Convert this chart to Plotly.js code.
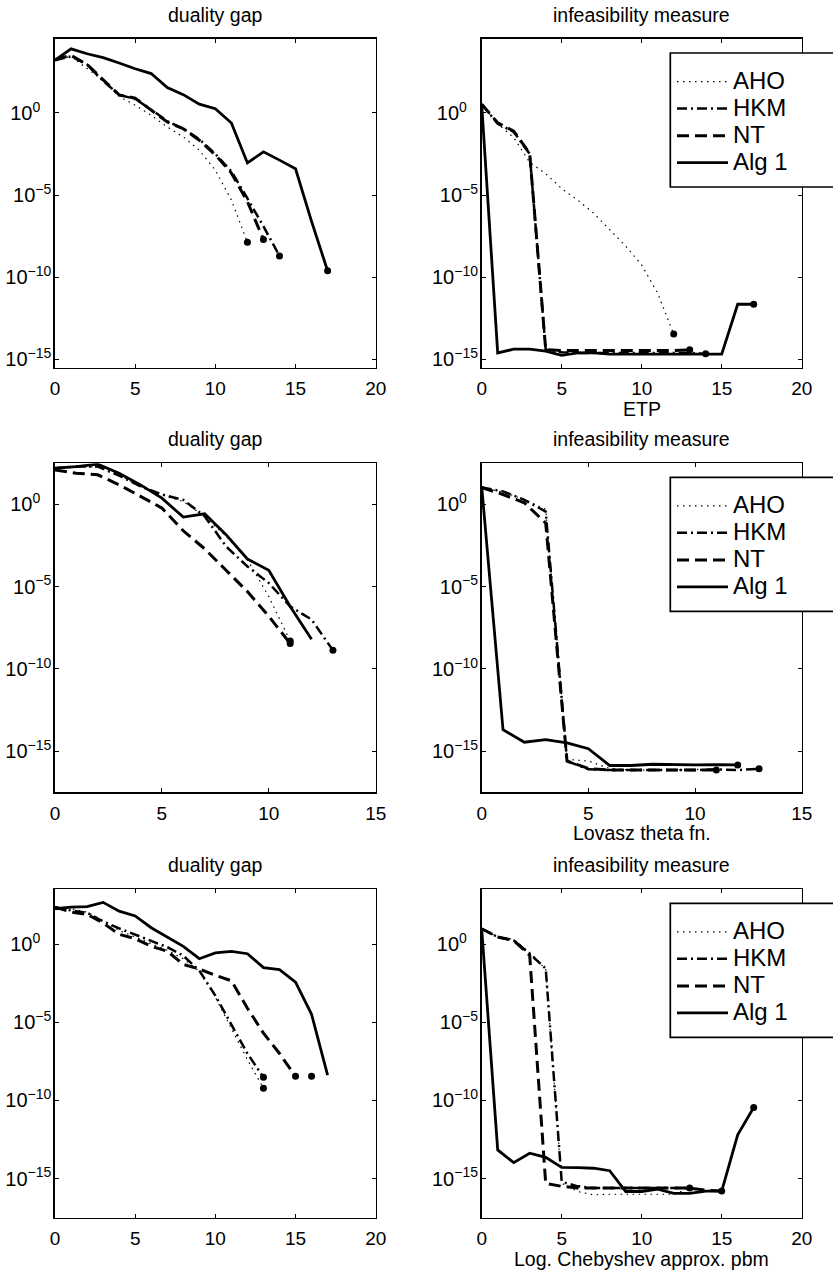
<!DOCTYPE html>
<html>
<head>
<meta charset="utf-8">
<script src="https://cdn.plot.ly/plotly-3.0.1.min.js"></script>
<style>html,body{margin:0;padding:0;background:#ffffff;}</style>
</head>
<body>
<div id="chart" style="width:833px;height:1273px;"></div>
<script>
// ---------------- data ----------------
const seriesNames = ["AHO", "HKM", "NT", "Alg 1"];
const leftTitle = "duality gap";
const rightTitle = "infeasibility measure";
const problemNames = ["ETP", "Lovasz theta fn.", "Log. Chebyshev approx. pbm"];
const yTickExponents = [-15, -10, -5, 0];
const xTicksTo20 = [0, 5, 10, 15, 20];
const xTicksTo15 = [0, 5, 10, 15];

// ETP : duality gap (iteration = array index)
const etpGapAHO = [1.6e3, 2.8e3, 5.0e2, 95, 10, 2.95, 0.72, 0.14, 3.5e-2, 5.4e-3, 3.3e-4, 5.0e-6, 1.35e-8];
const etpGapHKM = [1.6e3, 2.8e3, 8.9e2, 89, 12.6, 7.1, 1.6, 0.32, 0.11, 2.5e-2, 3.2e-3, 2.8e-4, 6.3e-6, 1.26e-7, 2.0e-9];
const etpGapNT  = [1.8e3, 3.2e3, 8.9e2, 1.0e2, 12.6, 7.9, 1.4, 0.28, 0.11, 2.2e-2, 2.8e-3, 2.2e-4, 4.0e-6, 2.0e-8];
const etpGapAlg = [1.6e3, 7.9e3, 4.0e3, 2.3e3, 1.1e3, 4.9e2, 2.5e2, 35, 13, 3.4, 1.8, 0.245, 9.1e-4, 4.3e-3, 1.35e-3, 4.0e-4, 2.5e-7, 2.5e-10];
const etpGapEndX = [12, 13, 14, 17];
const etpGapEndY = [1.35e-8, 2.0e-8, 2.0e-9, 2.5e-10];

// ETP : infeasibility measure
const etpInfAHO = [3.4, 0.22, 3.2e-2, 1.0e-3, 2.0e-4, 2.5e-5, 5.0e-6, 7.9e-7, 7.9e-8, 7.9e-9, 5.6e-10, 1.07e-11, 3.5e-14];
const etpInfHKM = [3.4, 0.22, 7.1e-2, 3.2e-3, 4.0e-15, 2.8e-15, 2.5e-15, 2.5e-15, 2.5e-15, 2.5e-15, 2.5e-15, 2.5e-15, 2.5e-15, 2.5e-15, 2.2e-15];
const etpInfNT  = [3.4, 0.25, 7.9e-2, 3.5e-3, 4.0e-15, 3.5e-15, 3.5e-15, 3.5e-15, 3.5e-15, 3.5e-15, 3.5e-15, 3.5e-15, 3.5e-15, 3.9e-15];
const etpInfAlg = [3.4, 2.5e-15, 4.3e-15, 4.3e-15, 3.2e-15, 1.8e-15, 2.5e-15, 2.5e-15, 2.1e-15, 2.1e-15, 2.1e-15, 2.1e-15, 2.1e-15, 2.1e-15, 2.1e-15, 2.1e-15, 2.3e-12, 2.3e-12];
const etpInfEndX = [12, 13, 14, 17];
const etpInfEndY = [3.5e-14, 3.9e-15, 2.2e-15, 2.3e-12];

// Lovasz theta fn. : duality gap
const lovGapAHO = [1.6e2, 1.8e2, 2.0e2, 63, 12.3, 3.9, 1.5, 0.19, 1.15e-2, 4.4e-4, 2.5e-6, 5.0e-9];
const lovGapHKM = [1.6e2, 2.0e2, 2.0e2, 56, 12.6, 4.0, 1.9, 0.19, 2.8e-3, 1.7e-4, 1.66e-5, 6.3e-7, 1.0e-7, 1.35e-9];
const lovGapNT  = [1.26e2, 79, 63, 15.5, 3.1, 0.6, 2.5e-2, 2.0e-3, 1.0e-4, 5.0e-6, 1.6e-7, 3.5e-9];
const lovGapAlg = [1.6e2, 2.0e2, 2.8e2, 79, 15.5, 2.4, 0.17, 0.27, 1.45e-2, 4.8e-4, 1.0e-4, 6.3e-7, 6.3e-9];
const lovGapEndX = [11, 11, 13];
const lovGapEndY = [5.0e-9, 3.5e-9, 1.35e-9];

// Lovasz theta fn. : infeasibility measure
const lovInfAHO = [10.7, 5.6, 2.0, 0.5, 3.2e-16, 2.5e-16, 8.9e-17, 7.1e-17, 7.1e-17, 7.1e-17, 7.9e-17, 7.1e-17];
const lovInfHKM = [10.7, 6.2, 1.9, 0.37, 2.5e-16, 7.9e-17, 7.1e-17, 7.1e-17, 7.1e-17, 7.6e-17, 7.1e-17, 7.9e-17, 7.1e-17, 8.5e-17];
const lovInfNT  = [10.7, 4.0, 1.26, 7.4e-2, 2.5e-16, 8.9e-17, 7.1e-17, 7.1e-17, 7.1e-17, 7.1e-17, 7.1e-17, 7.1e-17];
const lovInfAlg = [12.3, 2.0e-14, 3.5e-15, 5.0e-15, 3.2e-15, 1.4e-15, 1.35e-16, 1.35e-16, 1.6e-16, 1.45e-16, 1.45e-16, 1.5e-16, 1.45e-16];
const lovInfEndX = [11, 12, 13];
const lovInfEndY = [7.1e-17, 1.45e-16, 8.5e-17];

// Log. Chebyshev approx. pbm : duality gap
const chbGapAHO = [2.3e2, 1.8e2, 1.1e2, 32, 7.4, 2.8, 1.05, 0.4, 0.115, 1.8e-2, 4.0e-4, 4.0e-6, 4.0e-8, 5.9e-10];
const chbGapHKM = [2.3e2, 1.4e2, 1.0e2, 28, 10, 4.0, 1.6, 0.63, 0.18, 2.0e-2, 5.0e-4, 6.3e-6, 1.0e-7, 3.0e-9];
const chbGapNT  = [2.3e2, 1.1e2, 79, 22, 4.2, 2.2, 0.71, 0.35, 5.0e-2, 2.5e-2, 1.0e-2, 4.5e-3, 7.9e-5, 2.0e-6, 1.0e-7, 3.5e-9];
const chbGapAlg = [1.8e2, 2.3e2, 2.5e2, 4.6e2, 1.26e2, 63, 11, 2.8, 0.71, 0.115, 0.27, 0.34, 0.24, 3.1e-2, 2.3e-2, 3.7e-3, 3.2e-5, 4.2e-9];
const chbGapEndX = [13, 13, 15, 16];
const chbGapEndY = [3.0e-9, 5.9e-10, 3.5e-9, 3.5e-9];

// Log. Chebyshev approx. pbm : infeasibility measure
const chbInfAHO = [9.5, 2.8, 2.0, 0.28, 2.5e-2, 5.0e-16, 1.5e-16, 9.1e-17, 1.0e-16, 1.0e-16, 1.0e-16, 1.0e-16, 1.0e-16, 2.5e-16];
const chbInfHKM = [9.5, 2.8, 1.7, 0.24, 2.7e-2, 6.3e-16, 3.2e-16, 2.5e-16, 2.5e-16, 2.5e-16, 2.5e-16, 2.5e-16, 2.5e-16, 2.5e-16];
const chbInfNT  = [9.5, 2.8, 1.7, 0.19, 5.0e-16, 3.2e-16, 2.5e-16, 2.5e-16, 2.5e-16, 2.5e-16, 2.5e-16, 2.5e-16, 2.5e-16, 2.5e-16, 1.8e-16, 1.6e-16];
const chbInfAlg = [9.5, 6.8e-14, 1.05e-14, 4.2e-14, 2.3e-14, 5.2e-15, 5.0e-15, 4.6e-15, 3.2e-15, 1.5e-16, 1.5e-16, 2.1e-16, 1.15e-16, 1.15e-16, 1.6e-16, 1.6e-16, 6.3e-13, 3.5e-11];
const chbInfEndX = [13, 15, 17];
const chbInfEndY = [2.5e-16, 1.6e-16, 3.5e-11];

// ---------------- layout / styling ----------------
const W = 833, H = 1273;
const FONT = "Liberation Sans, Arial, Helvetica, sans-serif";
const cols = [[55, 375.7], [481.7, 801.7]];
const rows = [[39, 367.7], [463.3, 792.3], [889.3, 1217.7]];
const yRanges = [[-15.5, 4.5], [-17.5, 2.5], [-17.5, 3.5]];
const xRanges = [[0, 20], [0, 15], [0, 20]];
const xTickSets = [xTicksTo20, xTicksTo15, xTicksTo20];

const lineStyles = {
  "AHO":   {dash: "1.5px,4.5px", width: 1.2},
  "HKM":   {dash: "10px,4px,2px,4px", width: 2.5},
  "NT":    {dash: "12px,6px", width: 3},
  "Alg 1": {dash: "solid", width: 2.8}
};

const panels = [
  {row: 0, col: 0, series: [etpGapAHO, etpGapHKM, etpGapNT, etpGapAlg], endX: etpGapEndX, endY: etpGapEndY},
  {row: 0, col: 1, series: [etpInfAHO, etpInfHKM, etpInfNT, etpInfAlg], endX: etpInfEndX, endY: etpInfEndY, legend: "legend"},
  {row: 1, col: 0, series: [lovGapAHO, lovGapHKM, lovGapNT, lovGapAlg], endX: lovGapEndX, endY: lovGapEndY},
  {row: 1, col: 1, series: [lovInfAHO, lovInfHKM, lovInfNT, lovInfAlg], endX: lovInfEndX, endY: lovInfEndY, legend: "legend2"},
  {row: 2, col: 0, series: [chbGapAHO, chbGapHKM, chbGapNT, chbGapAlg], endX: chbGapEndX, endY: chbGapEndY},
  {row: 2, col: 1, series: [chbInfAHO, chbInfHKM, chbInfNT, chbInfAlg], endX: chbInfEndX, endY: chbInfEndY, legend: "legend3"}
];

const yTickVals = yTickExponents.map(e => Math.pow(10, e));
const yTickText = yTickExponents.map(e => e === 0
  ? "10<sup>0</sup>\u00A0\u00A0"
  : "10<sup>\u2212" + (-e) + "</sup>");

const traces = [];
const layout = {
  width: W, height: H,
  margin: {l: 0, r: 0, t: 0, b: 0},
  paper_bgcolor: "#ffffff", plot_bgcolor: "#ffffff",
  font: {family: FONT, size: 19, color: "#000000"},
  showlegend: true,
  annotations: [], shapes: []
};

const px = v => v / W;
const py = v => 1 - v / H;

panels.forEach((p, i) => {
  const n = i + 1;
  const xa = n === 1 ? "x" : "x" + n;
  const ya = n === 1 ? "y" : "y" + n;
  const xKey = n === 1 ? "xaxis" : "xaxis" + n;
  const yKey = n === 1 ? "yaxis" : "yaxis" + n;
  const c = cols[p.col], r = rows[p.row];
  const axisCommon = {
    showline: true, linecolor: "#000000", linewidth: 1.7, mirror: "ticks",
    ticks: "inside", ticklen: 4, tickwidth: 1, tickcolor: "#000000",
    showgrid: false, zeroline: false, fixedrange: true
  };
  layout[xKey] = Object.assign({}, axisCommon, {
    domain: [px(c[0]), px(c[1])], anchor: ya,
    range: xRanges[p.row], tickmode: "array", tickvals: xTickSets[p.row],
    ticktext: xTickSets[p.row].map(String), ticklabelstandoff: 3,
    tickfont: {family: FONT, size: 19, color: "#000000"}
  });
  layout[yKey] = Object.assign({}, axisCommon, {
    domain: [py(r[1]), py(r[0])], anchor: xa, type: "log",
    range: yRanges[p.row], tickmode: "array", tickvals: yTickVals, ticktext: yTickText,
    ticklabelstandoff: -2,
    tickfont: {family: FONT, size: 20, color: "#000000"}
  });

  p.series.forEach((ys, k) => {
    const name = seriesNames[k];
    const st = lineStyles[name];
    traces.push({
      type: "scatter", mode: "lines", name: name,
      x: ys.map((_, j) => j), y: ys,
      xaxis: xa, yaxis: ya,
      line: {color: "#000000", width: st.width, dash: st.dash},
      showlegend: !!p.legend, legend: p.legend || "legend",
      hoverinfo: "skip"
    });
  });
  traces.push({
    type: "scatter", mode: "markers", x: p.endX, y: p.endY,
    xaxis: xa, yaxis: ya, showlegend: false,
    marker: {color: "#000000", size: 7, symbol: "circle"}, hoverinfo: "skip"
  });

  // subplot title
  layout.annotations.push({
    xref: "paper", yref: "paper", x: px((c[0] + c[1]) / 2), y: py(r[0] - 24),
    xanchor: "center", yanchor: "middle", showarrow: false,
    text: p.col === 0 ? leftTitle : rightTitle,
    font: {family: FONT, size: 19.5, color: "#000000"}
  });
  if (p.col === 1) {
    // x-axis label (problem name)
    layout.annotations.push({
      xref: "paper", yref: "paper", x: px((c[0] + c[1]) / 2), y: py(r[1] + 41),
      xanchor: "center", yanchor: "middle", showarrow: false,
      text: problemNames[p.row],
      font: {family: FONT, size: 19.5, color: "#000000"}
    });
    // legend frame
    const boxTop = r[0] + 14, boxBot = r[0] + 148;
    layout.shapes.push({
      type: "rect", xref: "paper", yref: "paper", layer: "above",
      x0: px(670.3), x1: 1.05, y0: py(boxBot), y1: py(boxTop),
      fillcolor: "#ffffff", line: {color: "#000000", width: 1.7}
    });
    layout[p.legend] = {
      x: px(672), xanchor: "left", y: py(boxTop + 10), yanchor: "top",
      bgcolor: "rgba(0,0,0,0)", borderwidth: 0, itemwidth: 51,
      font: {family: FONT, size: 18.5, color: "#000000"},
      tracegroupgap: 0, itemclick: false, itemdoubleclick: false
    };
  }
});

// bigger legend text inside the entries
traces.forEach(t => { if (t.showlegend) t.name = '<span style="font-size:24px">' + t.name + '</span>'; });

Plotly.newPlot("chart", traces, layout, {staticPlot: true, displayModeBar: false});
</script>
</body>
</html>
